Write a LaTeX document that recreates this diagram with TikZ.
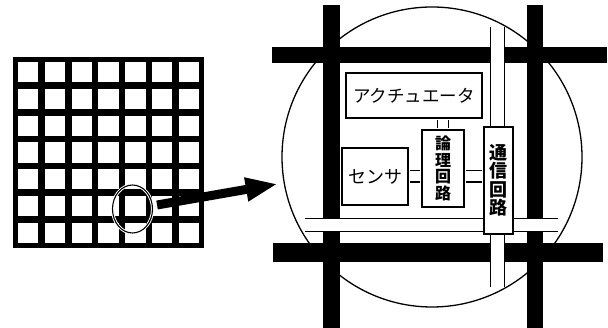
\documentclass[tikz,border=0pt]{standalone}
\usepackage{fontspec}
\newfontfamily\jp{Noto Sans CJK JP}
\usetikzlibrary{arrows.meta,shapes.geometric,calc}
\begin{document}
\begin{tikzpicture}[x=1pt,y=-1pt,
  box/.style={draw, line width=1.8pt, fill=white, inner sep=0pt},
  pipe/.style={double, line width=1.4pt},
  roadbar/.style={fill=black}]
\useasboundingbox (0,0) rectangle (608,328);
% left grid (chip array)
\fill (13,57) rectangle (204,248);
\foreach \i in {0,...,6}{\foreach \j in {0,...,6}{
  \fill[white] (13+5+\i*26.8, 57+5+\j*26.8) rectangle ++(20.3,20.3);}}
\node[ellipse, draw, line width=1.1pt, preaction={draw=white,line width=3pt},
      minimum width=40pt, minimum height=48pt, inner sep=0pt] (sel) at (132.5,209) {};
% enlarged view
\node[circle, draw, line width=1.3pt, minimum size=300pt, inner sep=0pt] (big) at (432,157) {};
\draw[line width=9pt, -{Triangle[length=32pt,width=22pt]}, shorten >=6pt]
  ([xshift=4pt,yshift=4pt]sel.east) -- (big);
% thick black wiring
\fill[roadbar] (323,5) rectangle (340,328);
\fill[roadbar] (527,5) rectangle (543,328);
\fill[roadbar] (272,47) rectangle (607,63);
\fill[roadbar] (273,243) rectangle (603,262);
% white bus lines
\draw[pipe, double distance=13pt] (497.5,27) -- (497.5,287);
\draw[pipe, double distance=12pt] (305,225) -- (558,225);
% boxes
\node[box, minimum width=136pt, minimum height=45pt, font=\jp\fontsize{17.5pt}{18pt}\selectfont] (act) at (414,95.5) {アクチュエータ};
\node[box, minimum width=66pt, minimum height=57pt, font=\jp\fontsize{18pt}{18pt}\selectfont] (sensor) at (375,176.5) {センサ};
\node[box, minimum width=42pt, minimum height=77pt, align=center, font=\jp\bfseries\fontsize{16pt}{16.5pt}\selectfont] (logic) at (443,168.5) {論\\理\\回\\路};
\node[box, minimum width=29pt, minimum height=107pt, align=center, font=\jp\bfseries\fontsize{18pt}{18.5pt}\selectfont] (comm) at (498.5,180.5) {通\\信\\回\\路};
% connections between boxes
\draw[pipe, double distance=10pt, shorten <=0.9pt, shorten >=0.9pt] (logic.north) -- (logic.north |- act.south);
\draw[pipe, double distance=10pt, shorten <=0.9pt, shorten >=0.9pt] (sensor.east) -- (sensor.east -| logic.west);
\draw[pipe, double distance=10pt, shorten <=0.9pt, shorten >=0.9pt] (logic.east |- sensor.east) -- (comm.west |- sensor.east);
\end{tikzpicture}
\end{document}
